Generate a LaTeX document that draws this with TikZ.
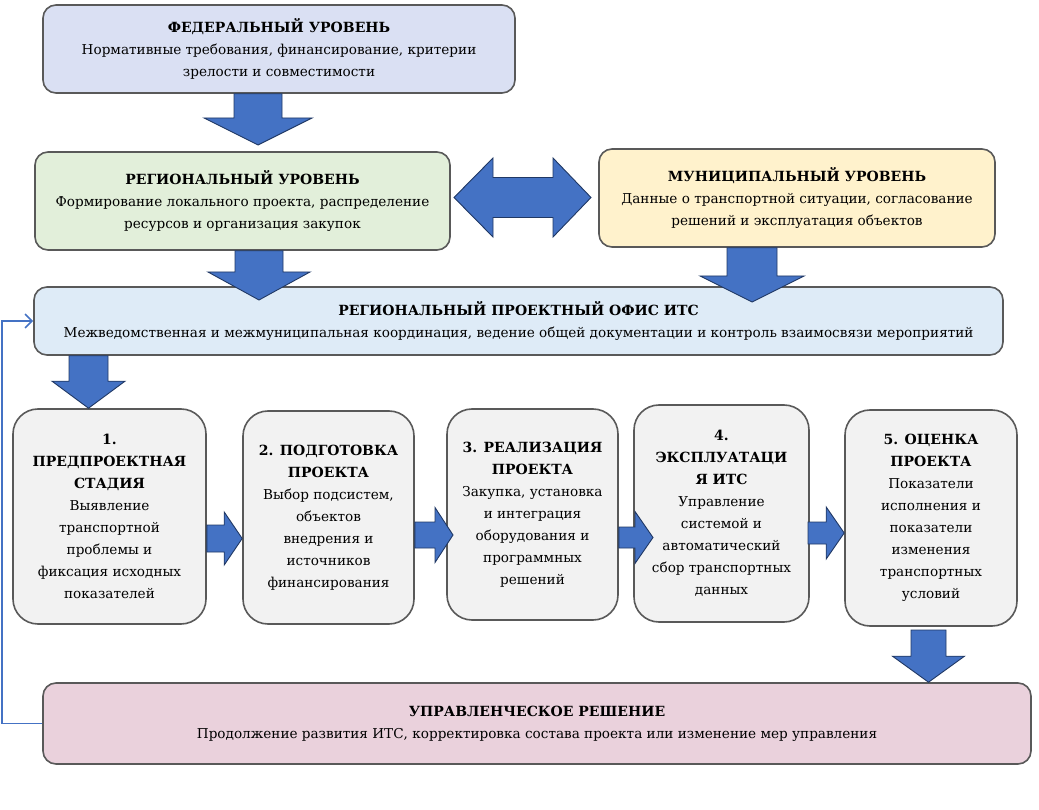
\documentclass[tikz,border=0pt]{standalone}
\usepackage{fontspec}
\setmainfont{DejaVu Serif}
\usetikzlibrary{calc,arrows.meta}
\definecolor{fedfill}{HTML}{DAE0F3}
\definecolor{regfill}{HTML}{E2EFDA}
\definecolor{munfill}{HTML}{FFF2CC}
\definecolor{offfill}{HTML}{DEEBF7}
\definecolor{stagefill}{HTML}{F2F2F2}
\definecolor{decfill}{HTML}{EAD1DC}
\definecolor{boxline}{HTML}{595959}
\definecolor{arrfill}{HTML}{4472C4}
\definecolor{arrline}{HTML}{203864}
\newcommand\hdtext[1]{{\fontsize{14}{22}\selectfont\bfseries #1}}
\tikzset{
  lvlbox/.style={draw=boxline, line width=1.6pt, rounded corners=13pt, align=center, inner sep=0pt,
    font=\fontsize{13.6}{22}\selectfont},
  stagebox/.style={lvlbox, rounded corners=25pt, fill=stagefill},
  blockarrow/.style={fill=arrfill, draw=arrline, line width=0.9pt, line join=miter},
  feedback/.style={draw=arrfill, line width=1.8pt, -{Straight Barb[length=7pt,width=14pt,line width=1.6pt]}}
}
\newcommand\blockdown[5]{%
  \path[blockarrow] let \p1=(#1), \p2=(#2) in
    (\x1-#3pt,\y1) -- (\x1+#3pt,\y1) -- (\x1+#3pt,\y2+#5pt) -- (\x1+#4pt,\y2+#5pt) -- (\x1,\y2)
    -- (\x1-#4pt,\y2+#5pt) -- (\x1-#3pt,\y2+#5pt) -- cycle;}
\newcommand\blockright[5]{%
  \path[blockarrow] let \p1=(#1), \p2=(#2) in
    (\x1,\y1+#3pt) -- (\x2-#5pt,\y1+#3pt) -- (\x2-#5pt,\y1+#4pt) -- (\x2,\y1)
    -- (\x2-#5pt,\y1-#4pt) -- (\x2-#5pt,\y1-#3pt) -- (\x1,\y1-#3pt) -- cycle;}
\begin{document}
\begin{tikzpicture}[x=1pt,y=-1pt]
\useasboundingbox (0,0) rectangle (1039,810);
% level boxes
\node[lvlbox, fill=fedfill, minimum width=472pt, minimum height=88pt] (fed) at (279,49)
  {\hdtext{ФЕДЕРАЛЬНЫЙ УРОВЕНЬ}\\Нормативные требования, финансирование, критерии\\зрелости и совместимости};
\node[lvlbox, fill=regfill, minimum width=415pt, minimum height=98pt] (reg) at (242.5,201)
  {\hdtext{РЕГИОНАЛЬНЫЙ УРОВЕНЬ}\\Формирование локального проекта, распределение\\ресурсов и организация закупок};
\node[lvlbox, fill=munfill, minimum width=396pt, minimum height=98pt] (mun) at (797,198)
  {\hdtext{МУНИЦИПАЛЬНЫЙ УРОВЕНЬ}\\Данные о транспортной ситуации, согласование\\решений и эксплуатация объектов};
\node[lvlbox, fill=offfill, minimum width=969pt, minimum height=68pt] (off) at (518.5,321)
  {\hdtext{РЕГИОНАЛЬНЫЙ ПРОЕКТНЫЙ ОФИС ИТС}\\Межведомственная и межмуниципальная координация, ведение общей документации и контроль взаимосвязи мероприятий};
% stage boxes
\node[stagebox, minimum width=193pt, minimum height=215pt] (s1) at (109.5,516.5)
  {\hdtext{1.}\\\hdtext{ПРЕДПРОЕКТНАЯ}\\\hdtext{СТАДИЯ}\\Выявление\\транспортной\\проблемы и\\фиксация исходных\\показателей};
\node[stagebox, minimum width=171pt, minimum height=213pt] (s2) at (328.5,517.5)
  {\hdtext{2. ПОДГОТОВКА}\\\hdtext{ПРОЕКТА}\\Выбор подсистем,\\объектов\\внедрения и\\источников\\финансирования};
\node[stagebox, minimum width=171pt, minimum height=211pt] (s3) at (532.5,514.5)
  {\hdtext{3. РЕАЛИЗАЦИЯ}\\\hdtext{ПРОЕКТА}\\Закупка, установка\\и интеграция\\оборудования и\\программных\\решений};
\node[stagebox, minimum width=175pt, minimum height=217pt] (s4) at (721.5,513.5)
  {\hdtext{4.}\\\hdtext{ЭКСПЛУАТАЦИ}\\\hdtext{Я ИТС}\\Управление\\системой и\\автоматический\\сбор транспортных\\данных};
\node[stagebox, minimum width=172pt, minimum height=216pt] (s5) at (931,518)
  {\hdtext{5. ОЦЕНКА}\\\hdtext{ПРОЕКТА}\\Показатели\\исполнения и\\показатели\\изменения\\транспортных\\условий};
% decision box
\node[lvlbox, fill=decfill, minimum width=988pt, minimum height=81pt] (dec) at (537,723.5)
  {\hdtext{УПРАВЛЕНЧЕСКОЕ РЕШЕНИЕ}\\Продолжение развития ИТС, корректировка состава проекта или изменение мер управления};
% arrow anchor coordinates
\coordinate (a1s) at (fed.south -| 258,0);
\coordinate (a1t) at (258,145);
\coordinate (a2s) at (reg.south -| 259,0);
\coordinate (a2t) at (259,300);
\coordinate (a3s) at (mun.south -| 752,0);
\coordinate (a3t) at (752,302);
\coordinate (a4s) at (off.south -| 88.5,0);
\coordinate (a4t) at (s1.north -| 88.5,0);
\coordinate (a5s) at (928.5,630);
\coordinate (a5t) at (dec.north -| 928.5,0);
\coordinate (h1s) at (s1.east |- 0,538.5);
\coordinate (h1t) at (s2.west |- 0,538.5);
\coordinate (h2s) at (s2.east |- 0,535);
\coordinate (h2t) at (453,535);
\coordinate (h3s) at (s3.east |- 0,537.5);
\coordinate (h3t) at (653,537.5);
\coordinate (h4s) at (808,533);
\coordinate (h4t) at (s5.west |- 0,533);
% vertical block arrows
\blockdown{a1s}{a1t}{24}{54}{27}
\blockdown{a2s}{a2t}{24}{51}{28}
\blockdown{a3s}{a3t}{25}{52}{26}
\blockdown{a4s}{a4t}{19.5}{36.5}{27}
\blockdown{a5s}{a5t}{17.5}{36}{26}
% horizontal block arrows
\blockright{h1s}{h1t}{13.5}{26.5}{18}
\blockright{h2s}{h2t}{13}{27.5}{18}
\blockright{h3s}{h3t}{10.5}{26}{18}
\blockright{h4s}{h4t}{11}{26}{18}
% double arrow between regional and municipal levels
\coordinate (dl) at (454,197.5);
\coordinate (dr) at (591,197.5);
\path[blockarrow] let \p1=(dl), \p2=(dr) in
  (\x1,\y1) -- (\x1+39pt,\y1+39.5pt) -- (\x1+39pt,\y1+20pt) -- (\x2-38pt,\y1+20pt) -- (\x2-38pt,\y1+39.5pt)
  -- (\x2,\y1) -- (\x2-38pt,\y1-39.5pt) -- (\x2-38pt,\y1-20pt) -- (\x1+39pt,\y1-20pt) -- (\x1+39pt,\y1-39.5pt) -- cycle;
% feedback loop
\coordinate (fbx) at (2,0);
\draw[feedback] (dec.west) -- (dec.west -| fbx) -- (off.west -| fbx) -- (off.west);
\end{tikzpicture}
\end{document}
